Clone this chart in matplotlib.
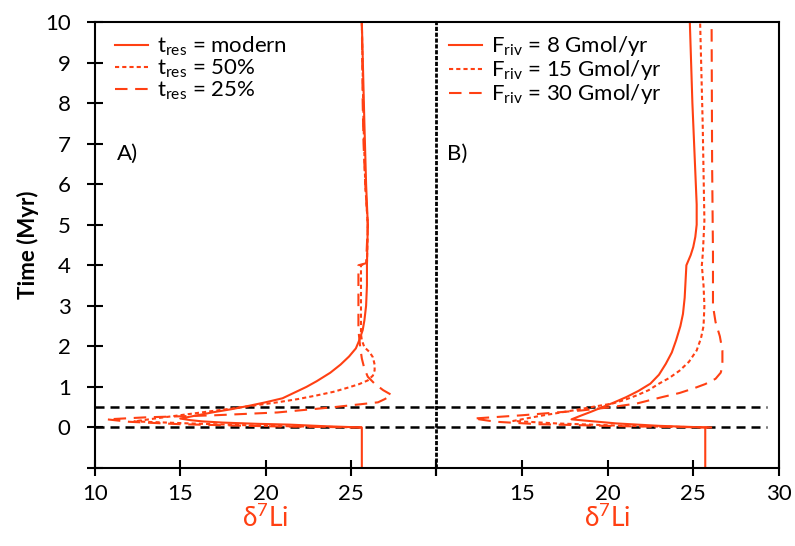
import matplotlib
matplotlib.use("Agg")
import matplotlib.pyplot as plt

plt.rcParams['font.family'] = ['Lato', 'DejaVu Sans']
plt.rcParams['mathtext.default'] = 'regular'
plt.rcParams['lines.scale_dashes'] = False

RED = '#FF4013'

# panel A: residence time experiments (d7Li vs time in Myr)
a_modern_x = [25.65, 25.65, 23.5, 21.4, 19.5, 17.5, 16.3, 15.6, 15.0, 16.0, 17.0, 18.0, 19.1,
              20.0, 21.0, 22.4, 23.0, 23.8, 24.4, 24.9, 25.3, 25.5, 25.7, 25.8, 25.9,
              25.95, 25.95, 26.0, 25.9, 25.8, 25.65]
a_modern_t = [-1.0, 0.0, 0.03, 0.07, 0.09, 0.12, 0.15, 0.18, 0.22, 0.3, 0.38, 0.45, 0.54,
              0.62, 0.72, 1.0, 1.14, 1.35, 1.55, 1.75, 1.95, 2.15, 2.4, 2.64, 3.0,
              3.5, 4.0, 5.0, 6.0, 7.5, 10.0]
a_half_x = [25.65, 20.0, 15.5, 12.3, 13.5, 15.5, 17.9, 19.3, 20.7, 21.9, 23.0, 24.0, 24.9,
            25.5, 26.0, 26.3, 26.4, 26.4, 26.3, 26.1, 25.8, 25.65, 25.6, 25.6, 25.6,
            25.95, 26.0, 25.85, 25.75, 25.65]
a_half_t = [0.0, 0.04, 0.1, 0.15, 0.22, 0.33, 0.46, 0.54, 0.62, 0.7, 0.79, 0.88, 0.99,
            1.07, 1.16, 1.28, 1.41, 1.55, 1.73, 1.86, 1.98, 2.15, 2.3, 3.0, 4.0,
            4.05, 5.0, 6.0, 7.5, 10.0]
a_quarter_x = [25.65, 20.0, 15.0, 12.0, 10.7, 13.0, 17.0, 20.7, 24.0, 26.6, 27.0, 27.4, 26.9,
               26.4, 26.0, 25.8, 25.65, 25.55, 25.45, 25.45, 25.45, 25.9, 26.0, 25.85,
               25.75, 25.7, 25.65]
a_quarter_t = [0.0, 0.03, 0.08, 0.14, 0.2, 0.25, 0.3, 0.37, 0.5, 0.62, 0.7, 0.8, 0.92,
               1.08, 1.25, 1.45, 1.7, 2.0, 2.4, 3.0, 4.0, 4.05, 5.0, 6.0,
               7.0, 8.0, 10.0]

# panel B: riverine flux experiments
b_f8_x = [25.7, 25.7, 23.0, 20.5, 17.9, 18.5, 19.0, 19.7, 20.4, 21.1, 21.8, 22.5, 23.0,
          23.4, 23.75, 24.0, 24.25, 24.4, 24.5, 24.55, 24.6, 24.65, 24.85, 25.0, 25.12,
          25.2, 25.2, 25.1, 24.95, 24.8]
b_f8_t = [-1.0, 0.0, 0.04, 0.1, 0.2, 0.3, 0.38, 0.5, 0.62, 0.75, 0.9, 1.08, 1.3,
          1.57, 1.85, 2.15, 2.5, 2.8, 3.2, 3.6, 4.0, 4.05, 4.25, 4.45, 4.7,
          5.0, 5.5, 6.5, 8.0, 10.0]
b_f15_x = [25.9, 21.0, 17.0, 14.5, 16.0, 18.0, 19.3, 20.3, 21.0, 21.7, 22.4, 23.0, 23.6,
           24.2, 24.75, 25.2, 25.45, 25.6, 25.65, 25.6, 25.5, 25.56, 25.65, 25.55, 25.4]
b_f15_t = [0.0, 0.04, 0.1, 0.16, 0.28, 0.42, 0.52, 0.59, 0.68, 0.79, 0.92, 1.08, 1.22,
           1.4, 1.62, 1.9, 2.2, 2.5, 3.0, 3.5, 4.0, 4.3, 5.1, 7.5, 10.0]
b_f30_x = [26.1, 21.0, 16.0, 13.5, 12.2, 15.0, 18.5, 20.2, 21.7, 23.2, 24.2, 25.0, 25.7,
           26.3, 26.6, 26.7, 26.7, 26.55, 26.3, 26.15, 26.15, 26.1, 26.07]
b_f30_t = [0.0, 0.03, 0.08, 0.14, 0.22, 0.3, 0.42, 0.5, 0.59, 0.75, 0.85, 0.96, 1.07,
           1.2, 1.35, 1.5, 1.9, 2.25, 2.6, 3.0, 4.3, 6.5, 10.0]

a_labels = [r't$_{res}$ = modern', r't$_{res}$ = 50%', r't$_{res}$ = 25%']
b_labels = [r'F$_{riv}$ = 8 Gmol/yr', r'F$_{riv}$ = 15 Gmol/yr', r'F$_{riv}$ = 30 Gmol/yr']

solid = '-'
short_dash = (0, (3.0, 2.2))
long_dash = (0, (9.0, 5.5))
black_dash = (0, (6.5, 4.3))

fig = plt.figure(figsize=(7.95, 5.46), dpi=100)
ax1 = fig.add_axes([95 / 795, 78 / 546, 341 / 795, 446 / 546])
ax2 = fig.add_axes([436 / 795, 78 / 546, 343 / 795, 446 / 546])

ax1.plot(a_modern_x, a_modern_t, color=RED, lw=1.5, ls=solid, label=a_labels[0])
ax1.plot(a_half_x, a_half_t, color=RED, lw=1.5, ls=short_dash, label=a_labels[1])
ax1.plot(a_quarter_x, a_quarter_t, color=RED, lw=1.5, ls=long_dash, label=a_labels[2])

ax2.plot(b_f8_x, b_f8_t, color=RED, lw=1.5, ls=solid, label=b_labels[0])
ax2.plot(b_f15_x, b_f15_t, color=RED, lw=1.5, ls=short_dash, label=b_labels[1])
ax2.plot(b_f30_x, b_f30_t, color=RED, lw=1.5, ls=long_dash, label=b_labels[2])

for ax in (ax1, ax2):
    ax.set_xlim(10, 30)
    ax.set_ylim(-1, 10)
    ax.set_xticks([10, 15, 20, 25, 30])
    ax.set_yticks(range(-1, 11))
    ax.tick_params(direction='inout', length=11, width=1.5, labelsize=16)
    ax.tick_params(axis='x', pad=6)
    for s in ax.spines.values():
        s.set_linewidth(1.5)
    ax.set_xlabel('δ$^7$Li', color=RED, fontsize=19, labelpad=0)
    ax.patch.set_alpha(0)

ax1.tick_params(axis='y', pad=12)

ax1.axhline(0, color='black', lw=1.8, ls=black_dash, zorder=1)
ax1.axhline(0.5, color='black', lw=1.8, ls=black_dash, zorder=1)
ax2.axhline(0, xmax=0.965, color='black', lw=1.8, ls=black_dash, zorder=1)
ax2.axhline(0.5, xmax=0.965, color='black', lw=1.8, ls=black_dash, zorder=1)

ax1.set_xticklabels(['10', '15', '20', '25', ''])
ax2.set_xticklabels(['', '15', '20', '25', '30'])
ax1.set_yticklabels([''] + [str(i) for i in range(0, 11)])
ax2.tick_params(axis='y', left=False, labelleft=False)
ax1.spines['right'].set_visible(False)
ax2.spines['left'].set_visible(False)
ax2.axvline(10, color='black', lw=2.0, ls=(0, (3.0, 1.2)), clip_on=False, zorder=3)

ax1.set_ylabel('Time (Myr)', fontsize=16, fontweight='bold', labelpad=4)

ax1.text(11.3, 6.75, 'A)', fontsize=16, va='center')
ax2.text(10.65, 6.75, 'B)', fontsize=16, va='center')

leg_kw = dict(loc='upper left', frameon=False, fontsize=16, handlelength=1.5,
              handletextpad=0.4, labelspacing=0.0, borderaxespad=0, borderpad=0)
ax1.legend(bbox_to_anchor=(0.058, 0.972), **leg_kw)
ax2.legend(bbox_to_anchor=(0.038, 0.972), **leg_kw)

fig.savefig('out.png', dpi=100)
